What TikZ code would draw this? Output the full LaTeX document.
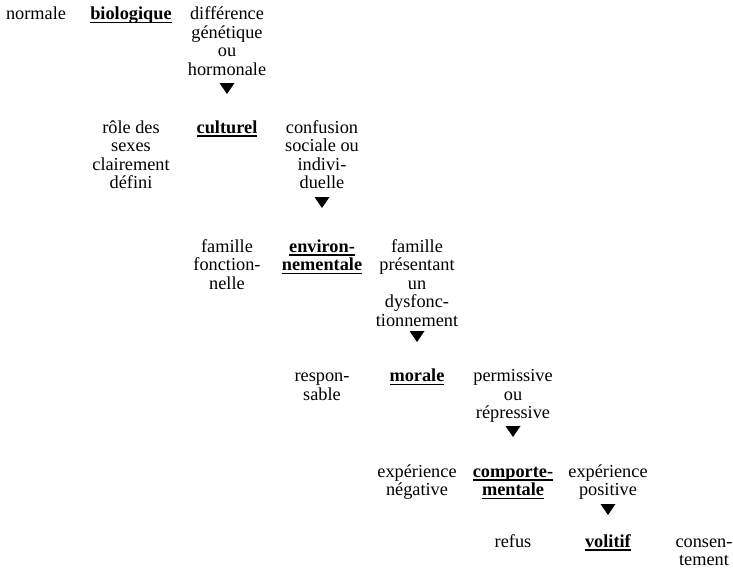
\documentclass[tikz,border=0pt]{standalone}
\usepackage{fontspec}
\setmainfont{Liberation Serif}
\newcommand\myul[1]{\setbox0\hbox{#1}\rlap{\rule[-3.8pt]{\wd0}{1.5pt}}\box0}
\begin{document}
\begin{tikzpicture}[x=1pt,y=-1pt,
  lbl/.style={anchor=north,inner sep=0pt,align=center,font=\fontsize{18.3}{18.5}\selectfont},
  key/.style={lbl},
  tri/.style={fill=black}]
\useasboundingbox[fill=white] (0,0) rectangle (733,579);
% row 1 (baseline 19.5)
\node[lbl] (n1l) at (36,6.5) {\strut normale};
\node[key] (n1c) at (131,6.5) {\strut\myul{\textbf{biologique}}};
\node[lbl] (n1r) at (227,6.5) {\strut différence\\génétique\\ou\\hormonale};
\coordinate (a1) at (227,94);
% row 2 (baseline 133)
\node[lbl] (n2l) at (131,120) {\strut rôle des\\sexes\\clairement\\défini};
\node[key] (n2c) at (227,120) {\strut\myul{\textbf{culturel}}};
\node[lbl] (n2r) at (322,120) {\strut confusion\\sociale ou\\indivi-\\duelle};
\coordinate (a2) at (322,208);
% row 3 (baseline 252)
\node[lbl] (n3l) at (227,239) {\strut famille\\fonction-\\nelle};
\node[key] (n3c) at (322,239) {\strut\myul{\textbf{environ-}}\\\myul{\textbf{nementale}}};
\node[lbl] (n3r) at (417,239) {\strut famille\\présentant\\un\\dysfonc-\\tionnement};
\coordinate (a3) at (417,342);
% row 4 (baseline 381)
\node[lbl] (n4l) at (322,368.5) {\strut respon-\\sable};
\node[key] (n4c) at (417,368.5) {\strut\myul{\textbf{morale}}};
\node[lbl] (n4r) at (513,368.5) {\strut permissive\\ou\\répressive};
\coordinate (a4) at (513,437);
% row 5 (baseline 477)
\node[lbl] (n5l) at (417,464) {\strut expérience\\négative};
\node[key] (n5c) at (513,464) {\strut\myul{\textbf{comporte-}}\\\myul{\textbf{mentale}}};
\node[lbl] (n5r) at (608,464) {\strut expérience\\positive};
\coordinate (a5) at (608,515);
% row 6 (baseline 547)
\node[lbl] (n6l) at (513,534) {\strut refus};
\node[key] (n6c) at (608,534) {\strut\myul{\textbf{volitif}}};
\node[lbl] (n6r) at (704,534) {\strut consen-\\tement};
% arrow marks
\foreach \a in {a1,a2,a3,a4,a5}
  \fill[tri] (\a) -- ++(-7.5,-11) -- ++(15,0) -- cycle;
\end{tikzpicture}
\end{document}
